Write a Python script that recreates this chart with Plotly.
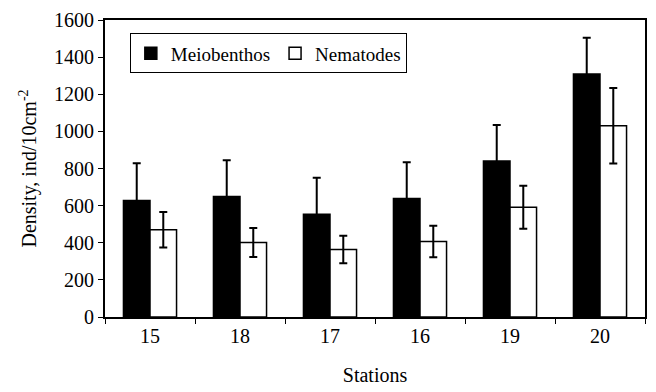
import plotly.graph_objects as go

stations = ["15", "18", "17", "16", "19", "20"]
meio = [628, 649, 554, 639, 840, 1309]
meio_err = [200, 196, 196, 195, 195, 196]
nema = [470, 401, 364, 407, 591, 1030]
nema_err = [95, 78, 74, 85, 116, 203]

font = dict(family="Liberation Serif", size=20, color="black")
lfont = dict(family="Liberation Serif", size=19, color="black")

fig = go.Figure()
fig.add_trace(go.Bar(
    x=stations, y=meio, name="Meiobenthos",
    marker=dict(color="black", line=dict(color="black", width=1.5)),
    error_y=dict(type="data", array=meio_err, color="black", thickness=2, width=4),
))
fig.add_trace(go.Bar(
    x=stations, y=nema, name="Nematodes",
    marker=dict(color="white", line=dict(color="black", width=1.5)),
    error_y=dict(type="data", array=nema_err, color="black", thickness=2, width=4),
))

fig.update_layout(
    width=656, height=392,
    margin=dict(l=105, r=9, t=16, b=73),
    paper_bgcolor="white", plot_bgcolor="white",
    font=font,
    barmode="group", bargap=0.41, bargroupgap=0,
    showlegend=True,
    legend=dict(
        orientation="h", x=0.046, y=0.955, xanchor="left", yanchor="top",
        bordercolor="black", borderwidth=1, bgcolor="white",
        font=lfont, itemwidth=30, tracegroupgap=0,
    ),
    xaxis=dict(
        title=dict(text="Stations", font=font, standoff=22),
        showline=True, linecolor="black", linewidth=2, mirror=True,
        ticks="outside", tickson="boundaries", ticklen=5, tickcolor="black",
        showgrid=False, tickfont=font,
    ),
    yaxis=dict(
        title=dict(text="Density, ind/10cm<sup>-2</sup>", font=font, standoff=12),
        range=[0, 1600], dtick=200,
        showline=True, linecolor="black", linewidth=2, mirror=True,
        ticks="outside", ticklen=5, tickcolor="black",
        showgrid=False, zeroline=False, tickfont=font,
    ),
)

fig.write_html("out.html")
